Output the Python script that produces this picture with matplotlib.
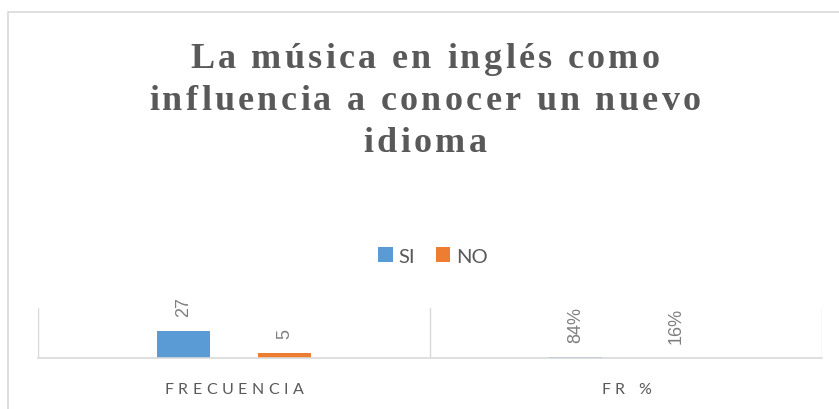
import matplotlib
matplotlib.use("Agg")
import matplotlib.pyplot as plt
from matplotlib.font_manager import FontProperties, findfont, get_font
from matplotlib.transforms import IdentityTransform
from matplotlib.patches import Rectangle

# data
categories = ["FRECUENCIA", "FR %"]
si_values = [27, 0.84]
no_values = [5, 0.16]
si_labels = ["27", "84%"]
no_labels = ["5", "16%"]
title_lines = ["La música en inglés como", "influencia a conocer un nuevo", "idioma"]

W, H, DPI = 839, 410, 100
BLUE = "#5b9bd5"
ORANGE = "#ed7d31"
GRID = "#d9d9d9"
TXT = "#595959"


def spaced_text(fig, xc, y, s, gap, fp, color):
    # matplotlib has no letter spacing, so place the characters one by one
    font = get_font(findfont(fp))
    font.set_size(fp.get_size_in_points(), fig.dpi)
    advs = [font.load_char(ord(ch)).linearHoriAdvance / 65536 for ch in s]
    total = sum(advs) + gap * (len(s) - 1)
    x = xc - total / 2
    for ch, a in zip(s, advs):
        if ch != " ":
            fig.text(x, y, ch, fontproperties=fp, color=color, ha="left",
                     va="baseline", transform=IdentityTransform())
        x += a + gap


fig = plt.figure(figsize=(W / DPI, H / DPI), dpi=DPI)

# chart area border (cut at right and bottom)
fig.patches.append(Rectangle((8 / W, -0.1), 1.2, 1.1 - 13 / H, transform=fig.transFigure,
                             fill=False, ec=GRID, lw=1.2))

ax = fig.add_axes([38 / W, 1 - 359 / H, (822 - 38) / W, 50 / H])
x = range(len(categories))
off, bw = 0.129, 0.135
b1 = ax.bar([i - off for i in x], si_values, bw, color=BLUE, label="SI")
b2 = ax.bar([i + off for i in x], no_values, bw, color=ORANGE, label="NO")
ax.set_xlim(-0.5, len(categories) - 0.5)
ax.set_ylim(0, 50)

for bars, labels in ((b1, si_labels), (b2, no_labels)):
    for rect, lab in zip(bars, labels):
        ax.annotate(lab, (rect.get_x() + rect.get_width() / 2, rect.get_height()),
                    xytext=(0, 11), textcoords="offset points", rotation=90,
                    ha="center", va="bottom", fontsize=13, color="#7f7f7f",
                    family="Liberation Sans")

for xv in [i - 0.5 for i in range(len(categories) + 1)]:
    ax.axvline(xv, color=GRID, lw=1)
for s in ["top", "right", "left"]:
    ax.spines[s].set_visible(False)
ax.spines["bottom"].set_color(GRID)
ax.spines["bottom"].set_linewidth(1.2)
ax.set_xticks([])
ax.set_yticks([])
ax.patch.set_alpha(0)

# category labels with letter spacing
fig.canvas.draw()
cat_fp = FontProperties(family="Lato", size=11.5)
for i, cat in enumerate(categories):
    xc = ax.transData.transform((i, 0))[0]
    spaced_text(fig, xc, H - 394, cat, 4.6, cat_fp, TXT)

# title
title_fp = FontProperties(family="Liberation Serif", weight="bold", size=26)
for line, yb in zip(title_lines, [68, 110, 152]):
    spaced_text(fig, 425, H - yb, line, 3.3, title_fp, TXT)

fig.legend(handles=[b1, b2], labels=["SI", "NO"], loc="center",
           bbox_to_anchor=(433 / W, 1 - 257 / H), ncol=2, frameon=False,
           handlelength=0.72, handleheight=0.72, handletextpad=0.3,
           columnspacing=1.0, prop=FontProperties(family="Lato", size=14.5),
           labelcolor=TXT)

fig.savefig("out.png", dpi=DPI)
